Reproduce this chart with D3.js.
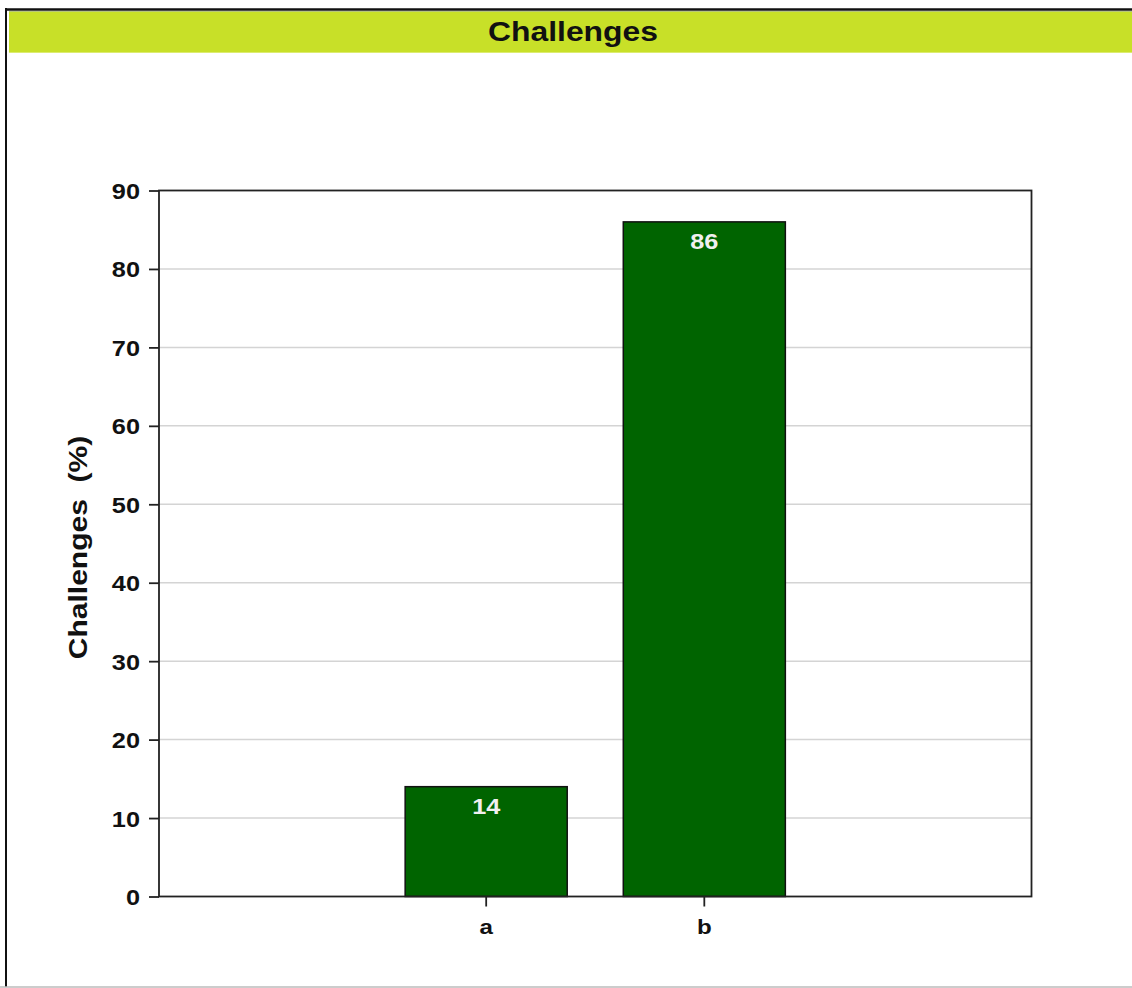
<!DOCTYPE html>
<html><head><meta charset="utf-8">
<script src="https://cdn.jsdelivr.net/npm/d3@7/dist/d3.min.js"></script>
<style>body{margin:0;background:#fff}svg{display:block}text{font-family:"Liberation Sans",Arial,sans-serif;font-weight:bold;white-space:pre}</style>
</head><body>
<svg id="c" width="1132" height="988"></svg>
<script>
const title = "Challenges";
const yLabel = "Challenges  (%)";
const categories = ["a", "b"];
const values = [14, 86];
const yTicks = [0, 10, 20, 30, 40, 50, 60, 70, 80, 90];

const SX = 1.15; // wide-font horizontal stretch
const svg = d3.select("#c");
// outer frame
svg.append("line").attr("x1", 5).attr("x2", 1132).attr("y1", 9.5).attr("y2", 9.5).attr("stroke", "#111").attr("stroke-width", 2.5);
svg.append("line").attr("x1", 6).attr("x2", 6).attr("y1", 8).attr("y2", 987).attr("stroke", "#111").attr("stroke-width", 2);
svg.append("line").attr("x1", 0).attr("x2", 1132).attr("y1", 987).attr("y2", 987).attr("stroke", "#bbb").attr("stroke-width", 1.5);
// title bar
svg.append("rect").attr("x", 9).attr("y", 12).attr("width", 1123).attr("height", 40).attr("fill", "#c8e028");
svg.append("line").attr("x1", 9).attr("x2", 1132).attr("y1", 11.5).attr("y2", 11.5).attr("stroke", "#b8c878").attr("stroke-width", 1);
svg.append("line").attr("x1", 9).attr("x2", 1132).attr("y1", 52.5).attr("y2", 52.5).attr("stroke", "#dcec70").attr("stroke-width", 1);
svg.append("text").attr("transform", `translate(573,40.5) scale(${SX + 0.03},1)`).attr("text-anchor", "middle")
  .attr("font-size", 27).attr("fill", "#111").text(title);

const L = 159, R = 1031.5, T = 190.5, B = 896.5;
const y = d3.scaleLinear().domain([0, 90]).range([B, T]);
const step = (R - L) / 4;
const x = d3.scaleBand().domain(categories).range([L + step, R - step]).paddingInner(0.257).paddingOuter(0.1285);

// gridlines
svg.append("g").selectAll("line").data(yTicks.filter(d => d > 0 && d < 90)).join("line")
  .attr("x1", L).attr("x2", R).attr("y1", d => y(d)).attr("y2", d => y(d))
  .attr("stroke", "#d4d4d4").attr("stroke-width", 1.5);

// bars
svg.append("g").selectAll("rect").data(values).join("rect")
  .attr("x", (d, i) => x(categories[i])).attr("width", x.bandwidth())
  .attr("y", d => y(d)).attr("height", d => B - y(d))
  .attr("fill", "#006400").attr("stroke", "#111").attr("stroke-width", 1.5);
svg.append("g").selectAll("text").data(values).join("text")
  .attr("transform", (d, i) => `translate(${x(categories[i]) + x.bandwidth() / 2},${y(d) + 27}) scale(${SX},1)`)
  .attr("text-anchor", "middle").attr("font-size", 22).attr("fill", "#f0f0f0").text(d => d);

// frame
svg.append("rect").attr("x", L).attr("y", T).attr("width", R - L).attr("height", B - T)
  .attr("fill", "none").attr("stroke", "#222").attr("stroke-width", 1.8);

// y axis
const ya = d3.axisLeft(y).tickValues(yTicks).tickSize(10);
const gy = svg.append("g").attr("transform", `translate(${L},0)`).call(ya);
gy.select(".domain").remove();
gy.selectAll("line").attr("stroke", "#222").attr("stroke-width", 1.8);
gy.selectAll("text").attr("x", null).attr("dy", null)
  .attr("transform", `translate(-19,8) scale(${SX},1)`)
  .attr("font-size", 22).attr("fill", "#111").attr("font-family", '"Liberation Sans",Arial,sans-serif').attr("font-weight", "bold");

// x axis
const xa = d3.axisBottom(x).tickSize(10);
const gx = svg.append("g").attr("transform", `translate(0,${B})`).call(xa);
gx.select(".domain").remove();
gx.selectAll("line").attr("stroke", "#222").attr("stroke-width", 1.8);
gx.selectAll("text").attr("y", null).attr("dy", null)
  .attr("transform", `translate(0,37) scale(${SX},1)`)
  .attr("font-size", 21).attr("fill", "#111").attr("font-family", '"Liberation Sans",Arial,sans-serif').attr("font-weight", "bold");

svg.append("text").attr("transform", `translate(87,${(T + B) / 2 + 4}) rotate(-90) scale(${SX + 0.05},1)`)
  .attr("text-anchor", "middle").attr("font-size", 25).attr("fill", "#111").text(yLabel);
</script>
</body></html>
